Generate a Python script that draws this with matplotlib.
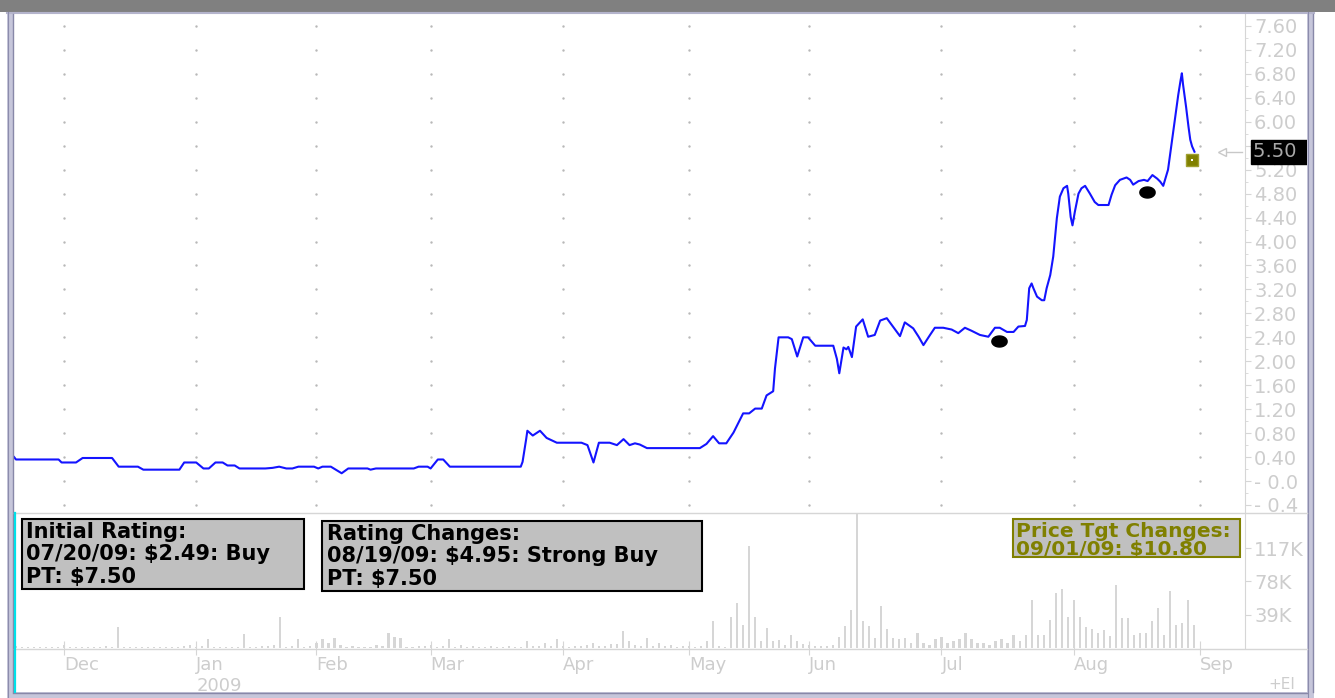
import numpy as np
import matplotlib
matplotlib.use('Agg')
import matplotlib.pyplot as plt
from matplotlib.patches import Rectangle
from matplotlib.path import Path
from matplotlib.transforms import blended_transform_factory as blend

W, H = 1335, 698
DPI = 100

# x axis is a trading-day index, 0 = first trading day of Dec 2008
month_idx = [0, 22, 42, 61, 83, 104, 124, 146, 168, 189]
month_lbl = ['Dec', 'Jan', 'Feb', 'Mar', 'Apr', 'May', 'Jun', 'Jul', 'Aug', 'Sep']

price_x = [-8.3, -8.0, -0.9, -0.4, 2.0, 3.1, 8.0, 9.1, 12.3, 13.2,
           19.2, 20.0, 22.0, 23.2, 24.1, 25.2, 26.4, 27.2, 28.4, 29.2,
           33.5, 34.7, 35.8, 37.0, 38.0, 39.0, 41.6, 42.3, 43.0, 44.4,
           46.2, 47.3, 50.5, 51.0, 51.9, 58.2, 59.0, 60.5, 61.0, 62.2,
           63.1, 64.2, 76.0, 76.3, 76.9, 77.1, 78.0, 79.2,
           80.3, 82.0, 86.1, 87.1, 88.1, 89.0, 90.8, 92.0, 93.1, 94.1,
           95.0, 95.8, 97.0, 105.8, 106.9, 108.0, 109.0, 110.2, 111.4, 113.0,
           114.0, 115.0, 116.1, 116.9, 118.0, 118.3, 118.9, 120.5, 121.1, 122.0,
           123.0, 123.8, 125.0, 128.0, 128.6, 129.0, 129.7, 130.2, 130.5, 131.1,
           131.8, 132.9, 133.8, 134.9, 135.8, 136.9, 138.0, 139.1, 139.9, 141.3,
           142.2, 143.0, 144.1, 144.9, 146.3, 147.7, 148.8, 149.9, 151.0, 152.4,
           153.8, 154.9, 155.7, 156.9, 158.0, 158.8, 159.9, 160.2, 160.6, 161.0,
           161.3, 161.9, 162.7, 163.1, 163.5, 164.1, 164.6, 165.2, 165.7, 166.3,
           166.9, 167.1, 167.5, 167.8, 168.2, 168.8, 169.3, 169.9, 170.7, 171.5,
           172.1, 173.8, 174.3, 174.9, 175.7, 176.8, 177.4, 177.9, 178.8, 179.7,
           180.3, 181.1, 181.9, 182.4, 182.9, 183.7, 184.3, 184.9, 185.4, 185.8,
           186.0, 186.2, 186.7, 187.1, 187.4, 187.7, 188.1]
price_y = [0.40, 0.36, 0.36, 0.31, 0.31, 0.385, 0.385, 0.24, 0.24, 0.19,
           0.19, 0.31, 0.31, 0.21, 0.21, 0.31, 0.31, 0.26, 0.26, 0.21,
           0.21, 0.22, 0.24, 0.21, 0.21, 0.24, 0.24, 0.21, 0.24, 0.24,
           0.13, 0.21, 0.21, 0.19, 0.21, 0.21, 0.24, 0.24, 0.21, 0.36,
           0.36, 0.24, 0.24, 0.32, 0.70, 0.84, 0.76, 0.84,
           0.72, 0.64, 0.64, 0.60, 0.31, 0.64, 0.64, 0.60, 0.70, 0.60,
           0.63, 0.61, 0.55, 0.55, 0.62, 0.75, 0.63, 0.63, 0.81, 1.13,
           1.13, 1.21, 1.21, 1.43, 1.50, 1.88, 2.40, 2.40, 2.37, 2.08,
           2.40, 2.40, 2.26, 2.26, 2.04, 1.80, 2.23, 2.20, 2.24, 2.07,
           2.58, 2.70, 2.41, 2.44, 2.68, 2.72, 2.57, 2.42, 2.65, 2.55,
           2.41, 2.27, 2.44, 2.56, 2.56, 2.53, 2.47, 2.56, 2.51, 2.44,
           2.41, 2.56, 2.56, 2.49, 2.49, 2.58, 2.59, 2.69, 3.22, 3.30,
           3.22, 3.08, 3.02, 3.02, 3.22, 3.44, 3.75, 4.39, 4.75, 4.89,
           4.93, 4.80, 4.41, 4.27, 4.50, 4.80, 4.89, 4.93, 4.80, 4.66,
           4.61, 4.61, 4.78, 4.94, 5.03, 5.07, 5.03, 4.95, 5.01, 5.03,
           5.01, 5.11, 5.05, 5.00, 4.93, 5.20, 5.64, 6.09, 6.45, 6.70,
           6.81, 6.62, 6.25, 5.92, 5.70, 5.59, 5.50]

# daily volume in thousands, first value is trading day -8
vol_start = -8
vol_nov = [2, 1, 1, 1, 1, 1, 1, 1]
vol_dec = [3, 1, 1, 1, 1, 1, 1, 2, 1, 25, 1, 1, 1, 1, 1, 1, 1, 1, 1, 1, 2, 4]
vol_jan = [1, 2, 10, 1, 1, 1, 1, 1, 16, 1, 1, 2, 2, 4, 36, 1, 2, 10, 1, 2]
vol_feb = [6, 10, 6, 12, 3, 1, 2, 1, 1, 1, 3, 2, 18, 13, 12, 1, 1, 2, 2]
vol_mar = [3, 1, 2, 10, 1, 4, 1, 2, 1, 1, 2, 1, 1, 2, 1, 1, 8, 2, 2, 6, 2, 10]
vol_apr = [2, 1, 2, 2, 3, 6, 2, 2, 5, 5, 20, 8, 3, 2, 12, 2, 6, 2, 3, 1, 2]
vol_may = [2, 1, 2, 8, 32, 2, 1, 36, 53, 27, 119, 36, 8, 23, 8, 9, 3, 15, 8, 5]
vol_jun = [3, 2, 2, 2, 3, 13, 26, 44, 200, 32, 26, 12, 49, 22, 12, 10, 12, 6, 18, 6, 4, 10]
vol_jul = [13, 6, 8, 10, 18, 10, 6, 6, 4, 8, 10, 6, 15, 8, 15, 56, 15, 15, 33, 64, 69, 36]
vol_aug = [56, 36, 24, 22, 18, 21, 14, 74, 35, 35, 15, 17, 18, 32, 47, 15, 67, 27, 29, 56, 27]

rating_x = [155.6, 180.2]
rating_y = [2.34, 4.83]
tgt_x = [187.7]
tgt_y = [5.36]
last_close = 5.50

price_ticks = np.round(np.arange(-0.4, 7.61, 0.4), 2)
# the 5.60 label sits under the last-price box; the lowest two are cut by the frame
price_lbls = []
for v in price_ticks:
    if abs(v - 5.6) < 0.01:
        price_lbls.append('')
    elif v > 0.2:
        price_lbls.append(f'{v:.2f}')
    else:
        price_lbls.append(f'- {abs(v):.1f}')
vol_ticks = [39000, 78000, 117000]
vol_lbls = ['39K', '78K', '117K']

box1_lines = ['Initial Rating:', '07/20/09: $2.49: Buy', 'PT: $7.50']
box2_lines = ['Rating Changes:', '08/19/09: $4.95: Strong Buy', 'PT: $7.50']
box3_lines = ['Price Tgt Changes:', '09/01/09: $10.80']

LIGHT = '#cdcdcd'
AXC = '#d6d6d6'

fig = plt.figure(figsize=(W / DPI, H / DPI), dpi=DPI)


def px_axes(x0, y0, x1, y1):
    return fig.add_axes([x0 / W, 1 - y1 / H, (x1 - x0) / W, (y1 - y0) / H])


xlim = ((14 - 64) / 6.01, (1245 - 64) / 6.01)

# price panel
ax = px_axes(14, 14, 1245, 512)
ax.set_xlim(*xlim)
ax.set_ylim(-0.517, 7.80)
for s in ['top', 'left', 'bottom']:
    ax.spines[s].set_visible(False)
ax.spines['right'].set_color(AXC)
ax.set_xticks([])
ax.yaxis.tick_right()
ax.set_yticks(price_ticks)
ax.set_yticklabels(price_lbls)
ax.set_yticks(price_ticks[:-1] + 0.2, minor=True)
ax.tick_params(axis='y', which='major', length=4.5, color=AXC, labelcolor=LIGHT,
               labelsize=14, pad=2)
ax.tick_params(axis='y', which='minor', length=2.5, color=AXC)

gx, gy = np.meshgrid(month_idx, price_ticks)
ax.scatter(gx.ravel(), gy.ravel(), s=3, c='#b8b8b8', linewidths=0, zorder=1)

ax.plot(price_x, price_y, color='#1414ff', lw=1.5, zorder=3)

t = np.linspace(0, 2 * np.pi, 40)
ellipse = Path(np.column_stack([np.cos(t), 0.72 * np.sin(t)]))
ax.plot(rating_x, rating_y, ls='none', marker=ellipse, ms=11, color='black', zorder=4)
ax.plot(tgt_x, tgt_y, ls='none', marker='s', ms=9, mfc='#808000', mec='#a0a030',
        mew=1, zorder=4)
ax.plot(tgt_x, tgt_y, ls='none', marker='s', ms=1.6, color='white', mew=0, zorder=5)

tr = blend(ax.transAxes, ax.transData)
ax.text(1.0065, last_close, '5.50  ', transform=tr, ha='left', va='center',
        fontsize=14, color='#a8a8a8', clip_on=False, zorder=6,
        bbox=dict(boxstyle='square,pad=0.12', fc='black', ec='black'))
last_x = price_x[-1]
ax.plot([last_x + 4.9, last_x + 7.9], [last_close, last_close], color='#c8c8c8',
        lw=1, clip_on=False)
ax.plot([last_x + 4.6], [last_close], marker='<', ms=6, mfc='white', mec='#c8c8c8',
        mew=1, clip_on=False)

# volume panel
vol = np.array(vol_nov + vol_dec + vol_jan + vol_feb + vol_mar + vol_apr +
               vol_may + vol_jun + vol_jul + vol_aug) * 1000
vol_x = np.arange(vol_start, vol_start + len(vol))

axv = px_axes(14, 513, 1245, 648)
axv.set_xlim(*xlim)
axv.set_ylim(0, 158000)
axv.bar(vol_x, vol, width=0.36, color='#d6d6d6', lw=0)
for s in ['top', 'left', 'bottom']:
    axv.spines[s].set_visible(False)
axv.spines['right'].set_color(AXC)
axv.yaxis.tick_right()
axv.set_yticks(vol_ticks)
axv.set_yticklabels(vol_lbls)
axv.tick_params(axis='y', length=4.5, color=AXC, labelcolor=LIGHT, labelsize=14, pad=2)
axv.set_xticks(month_idx)
axv.set_xticklabels(month_lbl, ha='left')
axv.tick_params(axis='x', direction='inout', length=10, color=AXC, labelcolor=LIGHT,
                labelsize=13, pad=0.5)
axv.text(month_idx[1], -0.215, '2009', transform=blend(axv.transData, axv.transAxes),
         ha='left', va='top', fontsize=13, color=LIGHT)

# window frame and annotation boxes, in pixel coordinates
ov = fig.add_axes([0, 0, 1, 1])
ov.set_xlim(0, W)
ov.set_ylim(H, 0)
ov.axis('off')
ov.patch.set_alpha(0)

ov.add_patch(Rectangle((0, 0), W, 12, fc='#808080', lw=0))
ov.plot([7, 1314], [13, 13], color='#b4b4cc', lw=1.5)
for x0 in [7, 1307]:
    ov.add_patch(Rectangle((x0, 12), 7, 686, fc='#c6c6da', lw=0))
    ov.plot([x0 + 0.5, x0 + 0.5], [12, 698], color='#8c8cac', lw=0.8)
    ov.plot([x0 + 5.8, x0 + 5.8], [14, 692], color='#8888a8', lw=1.0)
ov.add_patch(Rectangle((7, 692), 1307, 6, fc='#c6c6da', lw=0))
ov.plot([12.5, 1307], [692.5, 692.5], color='#8888a8', lw=1.0)

ov.plot([14, 1307], [513, 513], color=AXC, lw=1)
ov.plot([14, 1307], [648.5, 648.5], color=AXC, lw=1)
ov.plot([15, 15], [513, 692], color='#00e0e8', lw=1.6)
ov.text(1268, 689, '+EI', fontsize=11, color=LIGHT, ha='left', va='baseline')

ov.add_patch(Rectangle((22, 519), 282, 70, fc='#c0c0c0', ec='black', lw=1.5))
for k, line in enumerate(box1_lines):
    ov.text(26, 538 + 22.5 * k, line, fontsize=15, fontweight='bold', color='black',
            ha='left', va='baseline')

ov.add_patch(Rectangle((322, 521), 380, 70, fc='#c0c0c0', ec='black', lw=1.5))
for k, line in enumerate(box2_lines):
    ov.text(327, 540 + 22.5 * k, line, fontsize=15, fontweight='bold', color='black',
            ha='left', va='baseline')

ov.add_patch(Rectangle((1013, 519), 227, 38, fc='#c0c0c0', ec='#808000', lw=1.5))
for k, line in enumerate(box3_lines):
    ov.text(1016, 537 + 18 * k, line, fontsize=14.5, fontweight='bold', color='#808000',
            ha='left', va='baseline')

fig.savefig('out.png', dpi=DPI)
